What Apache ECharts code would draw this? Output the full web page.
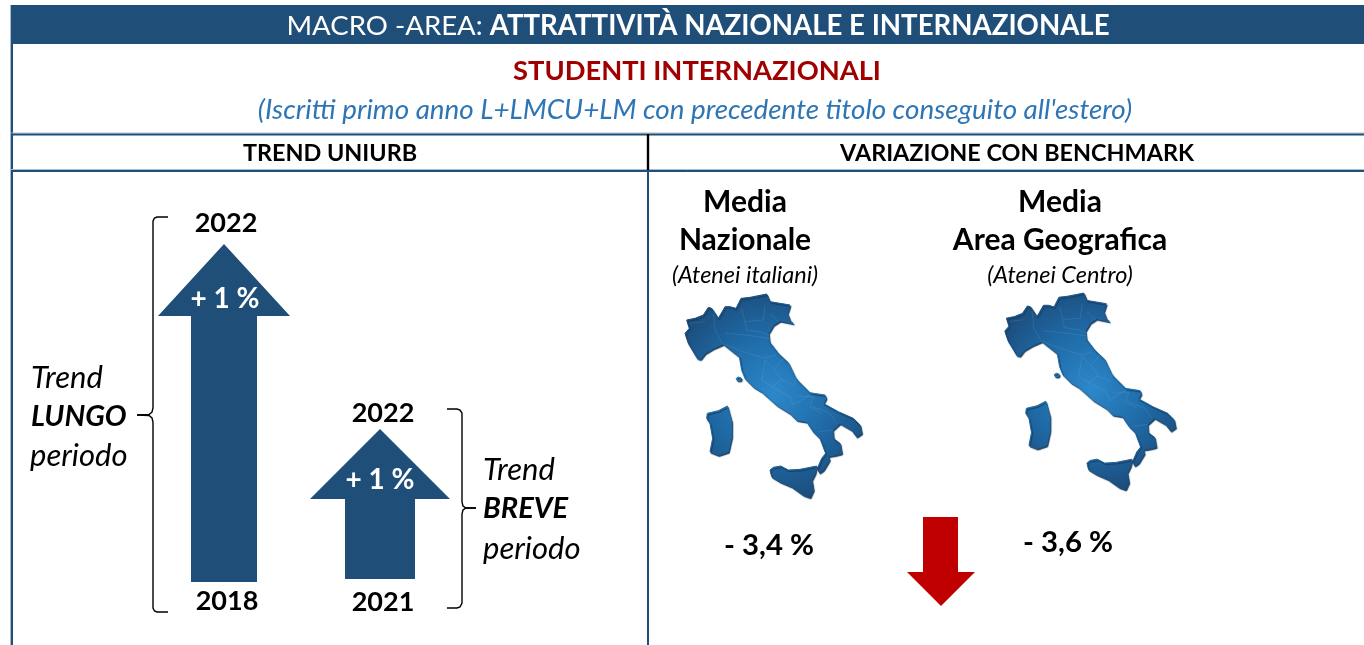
<!DOCTYPE html>
<html>
<head>
<meta charset="utf-8">
<title>Studenti internazionali</title>
<script src="https://cdn.jsdelivr.net/npm/echarts@6/dist/echarts.min.js"></script>
<style>
    html, body { margin: 0; padding: 0; background: #fff; }
    #chart { width: 1364px; height: 645px; }
</style>
</head>
<body>
<div id="chart"></div>
<script>
// data
var trendYears = [[2018, 2022], [2021, 2022]];
var trendSpans = [4, 1];
var trendPct = [1, 1];
var trendNames = ["LUNGO", "BREVE"];
var benchmarkNames = [["Media", "Nazionale"], ["Media", "Area Geografica"]];
var benchmarkNotes = ["(Atenei italiani)", "(Atenei Centro)"];
var benchmarkPct = [-3.4, -3.6];

var FONT = "Lato";
var BLUE = "#1f4e79";
var RED = "#c00000";

// arrow outlines, stretched by pictorialBar to the length of the bar
// a negative value flips the symbol, so the red one is drawn pointing up too
var upLong = "path://M66,0 L132,72 L99,72 L99,338 L33,338 L33,72 L0,72 Z";
var upShort = "path://M70,0 L140,70 L105,70 L105,150 L35,150 L35,70 L0,70 Z";
var upRed = "path://M34,0 L68,34 L51,34 L51,89 L16,89 L16,34 L0,34 Z";

// Italy traced in a 3x space, scaled down in the group
var italyPieces = [
    "110,120 135,115 160,105 175,82 185,85 205,115 225,80 240,80 258,85 273,55 300,52 350,42 360,65 390,70 420,75 412,100 422,125 430,130 390,122 370,135 355,160 358,185 385,220 415,248 435,290 442,300 480,338 525,345 528,355 520,370 565,395 610,415 630,435 635,460 620,470 605,450 570,430 548,450 550,475 570,490 575,520 555,525 535,528 538,540 520,570 508,578 502,565 515,535 527,520 510,475 490,455 470,425 440,420 420,400 380,375 335,335 310,320 285,295 275,270 268,230 220,192 190,205 165,220 152,237 142,235 130,215 115,190 105,160 118,145",
    "360,570 370,562 392,558 415,570 450,568 500,558 495,580 485,600 490,630 480,652 460,645 425,620 390,605 365,590",
    "172,400 205,392 232,378 245,425 245,470 235,515 205,525 180,515 188,475 180,430 170,415",
    "258,296 265,291 274,294 272,301 262,301"
];
var italyRegions = [
    "190,100 195,150 215,185", "225,160 285,165 360,175", "285,125 290,150 330,155 355,165",
    "275,85 285,125 340,120 345,75", "360,100 385,125", "215,190 280,215 345,235 375,225",
    "345,240 335,300 365,320 395,300 375,270 345,240", "400,235 375,265", "395,300 430,315 440,290",
    "365,320 420,350 430,375", "430,375 480,345", "440,350 490,350 480,380 515,400",
    "490,380 540,400 560,430", "505,455 550,450", "120,130 165,125"
];

var braceLeft = [
    "168,217 157,217 154.5,218 153,221 153,408 152,412 149,414.5 137,415",
    "137,415 149,415.5 152,418 153,422 153,608 154.5,611 157,612 168,612"
];
var braceRight = [
    "447,409 457,409 460,410 462,413 462,502 463,506 466,508 476,508",
    "476,508 466,508 463,510 462,514 462,603 460,607 457,608 447,608"
];

function pts(s) {
    return s.split(" ").map(function(p) {
        return p.split(",").map(Number);
    });
}

function pct(v) {
    return (v > 0 ? "+ " : "- ") + String(Math.abs(v)).replace(".", ",") + " %";
}

function txt(x, y, s, size, opt) {
    opt = opt || {};
    return {
        type: "text",
        x: x,
        y: y,
        z: 10,
        silent: true,
        style: {
            text: s,
            fontFamily: FONT,
            fontSize: size,
            fontWeight: opt.weight || "normal",
            fontStyle: opt.italic ? "italic" : "normal",
            fill: opt.color || "#000",
            align: opt.align || "center",
            verticalAlign: "middle",
            rich: opt.rich
        }
    };
}

function hline(y, x1, x2, color, w) {
    return { type: "line", silent: true, shape: { x1: x1, y1: y, x2: x2, y2: y }, style: { stroke: color, lineWidth: w } };
}

function vline(x, y1, y2, color, w) {
    return { type: "line", silent: true, shape: { x1: x, y1: y1, x2: x, y2: y2 }, style: { stroke: color, lineWidth: w } };
}

function brace(parts) {
    return parts.map(function(s) {
        return { type: "polyline", silent: true, shape: { points: pts(s) }, style: { fill: "none", stroke: "#000", lineWidth: 1.4 } };
    });
}

function italy(x, y, k) {
    var fill = {
        type: "radial",
        x: 370,
        y: 340,
        r: 330,
        global: true,
        colorStops: [
            { offset: 0, color: "#2c88cb" },
            { offset: 0.55, color: "#1f6aa6" },
            { offset: 1, color: "#1c4c7b" }
        ]
    };
    var kids = italyPieces.map(function(s) {
        return {
            type: "polygon",
            shape: { points: pts(s) },
            style: {
                fill: fill,
                stroke: fill,
                lineWidth: 3,
                lineJoin: "round",
                shadowColor: "#143a5e",
                shadowOffsetX: 1,
                shadowOffsetY: 1.5,
                shadowBlur: 1
            }
        };
    });
    italyRegions.forEach(function(s) {
        kids.push({
            type: "polyline",
            shape: { points: pts(s) },
            style: { fill: "none", stroke: "rgba(140,195,235,.32)", lineWidth: 1.4 }
        });
    });
    return {
        type: "group",
        x: x,
        y: y,
        scaleX: k,
        scaleY: k,
        silent: true,
        children: kids
    };
}

var graphics = [
    { type: "rect", silent: true, shape: { x: 11, y: 5, width: 1353, height: 39 }, style: { fill: BLUE } },
    vline(10.5, 5, 645, "#a9bccf", 1),
    vline(12, 5, 645, BLUE, 2),
    hline(133, 11, 1364, "#a9bccf", 1),
    hline(134.5, 11, 1364, BLUE, 2),
    hline(169.5, 11, 1364, "#a9bccf", 1),
    hline(171, 11, 1364, BLUE, 2),
    vline(648, 134, 170, "#000", 2.4),
    vline(648, 170, 645, BLUE, 2),
    txt(698, 26, "{a|MACRO -AREA: }{b|ATTRATTIVITÀ NAZIONALE E INTERNAZIONALE}", 27.6, {
        color: "#fff",
        rich: {
            a: { fontFamily: FONT, fontSize: 27.6, fill: "#fff" },
            b: { fontFamily: FONT, fontSize: 27.6, fontWeight: "bold", fill: "#fff" }
        }
    }),
    txt(697, 71.5, "STUDENTI INTERNAZIONALI", 27.3, { weight: "bold", color: "#a00000" }),
    txt(695, 110.5, "(Iscritti primo anno L+LMCU+LM con precedente titolo conseguito all'estero)", 27.8, { italic: true, color: "#2e75b6" }),
    txt(330, 153, "TREND UNIURB", 23.4, { weight: "bold" }),
    txt(1017, 153, "VARIAZIONE CON BENCHMARK", 23.4, { weight: "bold" }),

    // years on the trend arrows
    txt(226, 223, String(trendYears[0][1]), 27, { weight: "bold" }),
    txt(227, 601, String(trendYears[0][0]), 27, { weight: "bold" }),
    txt(383, 413, String(trendYears[1][1]), 27, { weight: "bold" }),
    txt(383, 602, String(trendYears[1][0]), 27, { weight: "bold" }),
    txt(225, 299, pct(trendPct[0]), 28, { weight: "bold", color: "#fff" }),
    txt(380, 480, pct(trendPct[1]), 28, { weight: "bold", color: "#fff" }),

    // long / short trend captions
    txt(31, 378, "Trend", 31, { italic: true, align: "left" }),
    txt(31, 417, trendNames[0], 29, { italic: true, weight: "bold", align: "left" }),
    txt(30, 456, "periodo", 31, { italic: true, align: "left" }),
    txt(483, 470, "Trend", 31, { italic: true, align: "left" }),
    txt(483, 509, trendNames[1], 29, { italic: true, weight: "bold", align: "left" }),
    txt(483, 549, "periodo", 31, { italic: true, align: "left" })
].concat(brace(braceLeft), brace(braceRight), [
    // benchmark columns
    txt(745, 202, benchmarkNames[0][0], 30, { weight: "bold" }),
    txt(745, 240, benchmarkNames[0][1], 30, { weight: "bold" }),
    txt(745, 275, benchmarkNotes[0], 23.5, { italic: true }),
    txt(1060, 202, benchmarkNames[1][0], 30, { weight: "bold" }),
    txt(1060, 240, benchmarkNames[1][1], 30, { weight: "bold" }),
    txt(1060, 275, benchmarkNotes[1], 23.5, { italic: true }),
    txt(769, 546, pct(benchmarkPct[0]), 29.3, { weight: "bold" }),
    txt(1068, 543, pct(benchmarkPct[1]), 29.3, { weight: "bold" }),

    italy(650, 280, 1 / 3),
    italy(971, 279.5, 0.322)
]);

// one hidden grid per arrow, the arrow fills its bar
var boxes = [
    { left: 158, top: 244, width: 132, height: 338 },
    { left: 310, top: 429, width: 140, height: 150 },
    { left: 907, top: 517, width: 68, height: 89 }
];
var arrowValues = [trendSpans[0], trendSpans[1], benchmarkPct[1]];
var arrowPaths = [upLong, upShort, upRed];
var arrowColors = [BLUE, BLUE, RED];

var myChart = echarts.init(document.getElementById("chart"), null, { renderer: "canvas" });

var option = {
    animation: false,
    backgroundColor: "#fff",
    grid: boxes.map(function(b) {
        return { left: b.left, top: b.top, width: b.width, height: b.height, containLabel: false };
    }),
    xAxis: boxes.map(function(b, i) {
        return { type: "category", gridIndex: i, data: [""], show: false };
    }),
    yAxis: arrowValues.map(function(v, i) {
        return {
            type: "value",
            gridIndex: i,
            show: false,
            min: v < 0 ? v : 0,
            max: v < 0 ? 0 : v
        };
    }),
    series: arrowValues.map(function(v, i) {
        return {
            type: "pictorialBar",
            xAxisIndex: i,
            yAxisIndex: i,
            data: [v],
            symbol: arrowPaths[i],
            symbolSize: [boxes[i].width, "100%"],
            symbolPosition: "start",
            itemStyle: { color: arrowColors[i] },
            silent: true,
            z: 1
        };
    }),
    graphic: { elements: graphics }
};

myChart.setOption(option);
window.addEventListener("resize", function() {
    myChart.resize();
});
</script>
</body>
</html>
